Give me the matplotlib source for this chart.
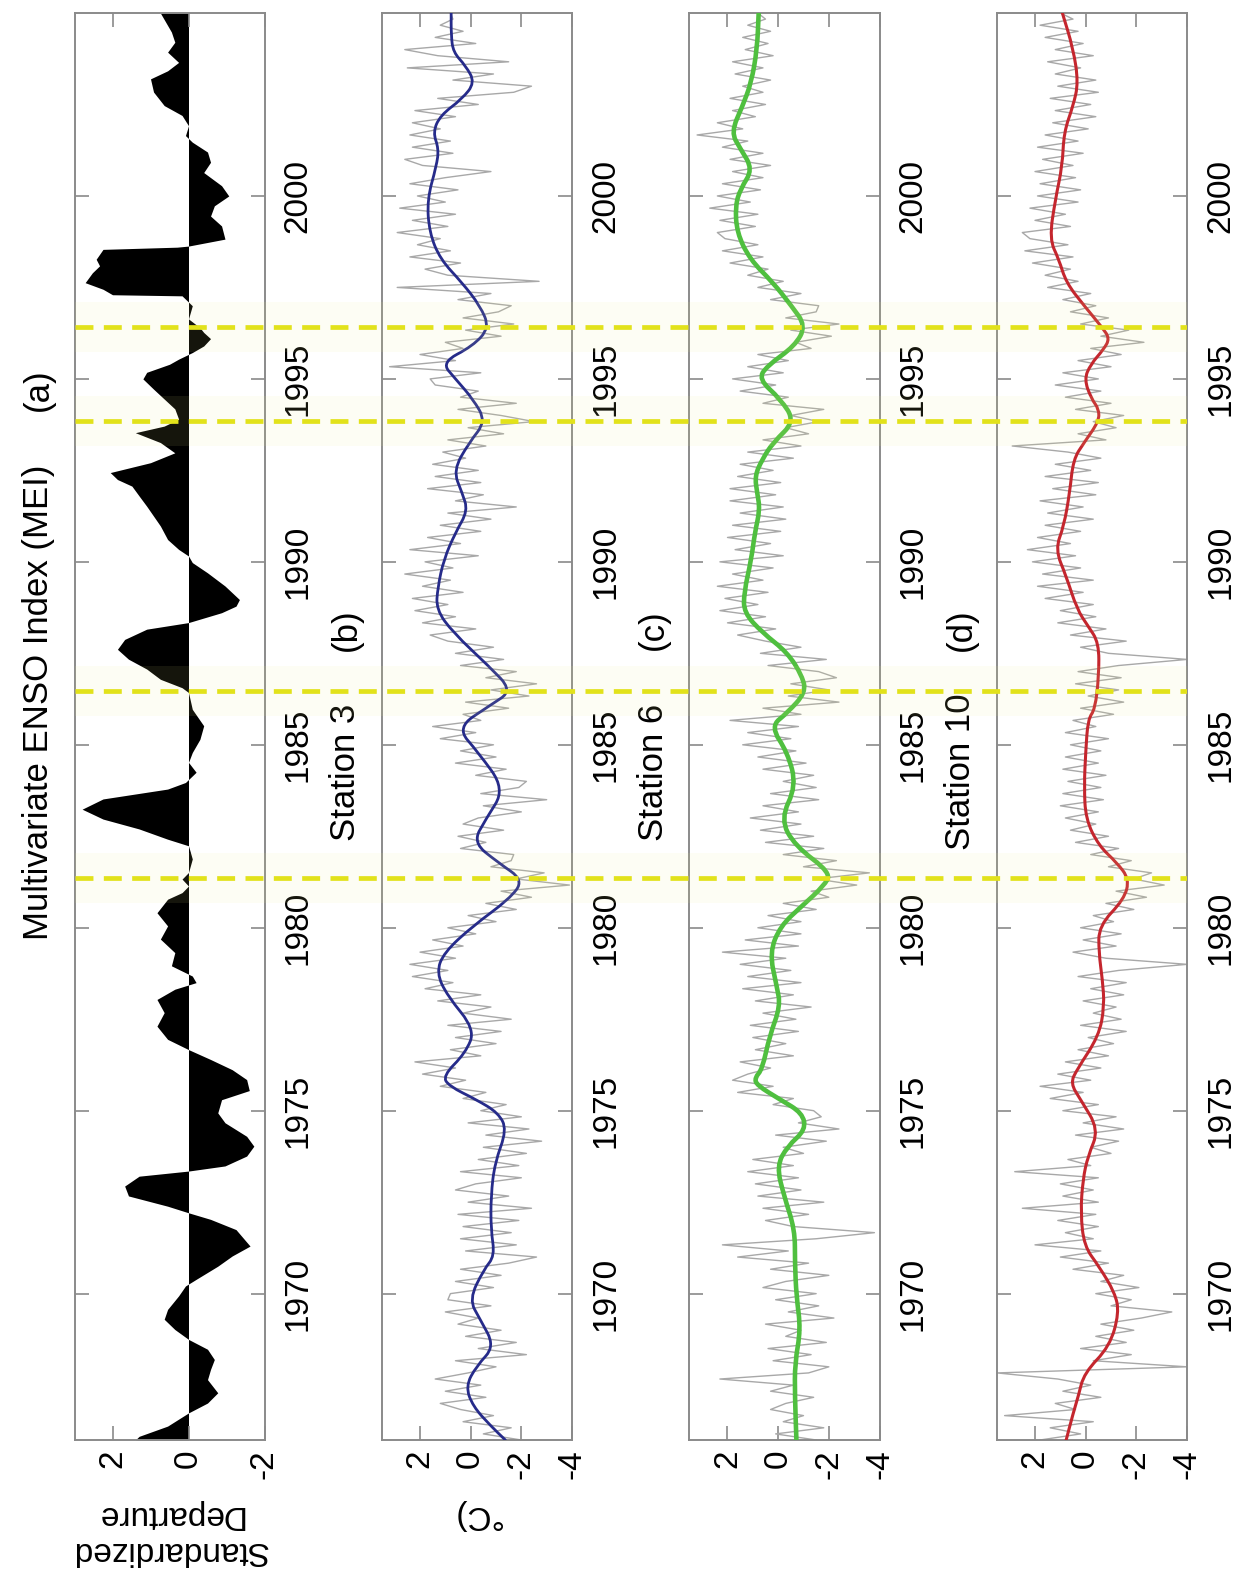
#!/usr/bin/env python3
# coding: utf-8

import numpy as np
import matplotlib

matplotlib.use("Agg")
import matplotlib.pyplot as plt
from matplotlib.path import Path
from matplotlib.patches import PathPatch

plt.rcParams["font.family"] = ["Liberation Sans", "DejaVu Sans"]
plt.rcParams["axes.unicode_minus"] = False

# Multivariate ENSO Index, (year, standardized departure)
mei = [
    (1966.00, 1.40), (1966.10, 1.30), (1966.38, 0.55), (1966.74, 0.00), (1967.01, -0.50),
    (1967.29, -0.77), (1967.65, -0.50), (1967.93, -0.58), (1968.20, -0.68), (1968.48, -0.50),
    (1968.75, 0.00), (1969.02, 0.36), (1969.30, 0.64), (1969.57, 0.55), (1969.94, 0.26),
    (1970.21, 0.08), (1970.39, -0.20), (1970.75, -0.77), (1971.03, -1.15), (1971.30, -1.62),
    (1971.75, -1.25), (1972.03, -0.58), (1972.21, 0.00), (1972.39, 0.55), (1972.67, 1.58),
    (1972.94, 1.68), (1973.21, 1.30), (1973.35, 0.00), (1973.49, -0.96), (1973.76, -1.53),
    (1974.03, -1.72), (1974.30, -1.53), (1974.67, -0.96), (1974.94, -0.77), (1975.30, -0.87),
    (1975.55, -1.60), (1975.85, -1.53), (1976.12, -1.15), (1976.40, -0.58), (1976.67, 0.00),
    (1976.95, 0.55), (1977.31, 0.83), (1977.68, 0.64), (1978.04, 0.83), (1978.32, 0.36),
    (1978.50, -0.20), (1978.68, -0.10), (1978.96, 0.45), (1979.32, 0.36), (1979.69, 0.74),
    (1980.05, 0.55), (1980.41, 0.83), (1980.78, 0.55), (1980.96, 0.17), (1981.14, 0.00),
    (1981.33, 0.17), (1981.51, 0.00), (1981.88, -0.10), (1982.24, 0.00), (1982.42, 0.55),
    (1982.70, 1.30), (1982.97, 2.25), (1983.24, 2.80), (1983.52, 2.25), (1983.79, 0.55),
    (1983.97, 0.08), (1984.25, -0.20), (1984.52, 0.00), (1984.79, -0.10), (1985.15, -0.30),
    (1985.52, -0.40), (1985.97, -0.10), (1986.43, 0.00), (1986.56, 0.17), (1986.79, 0.74),
    (1987.07, 1.10), (1987.34, 1.58), (1987.61, 1.87), (1987.88, 1.68), (1988.16, 1.10),
    (1988.34, 0.00), (1988.61, -0.87), (1988.79, -1.25), (1988.97, -1.34), (1989.34, -0.96),
    (1989.70, -0.50), (1989.98, -0.10), (1990.16, 0.00), (1990.34, 0.26), (1990.61, 0.55),
    (1990.98, 0.74), (1991.25, 0.92), (1991.52, 1.10), (1991.80, 1.30), (1992.07, 1.49),
    (1992.25, 1.87), (1992.44, 2.06), (1992.71, 1.00), (1992.98, 0.36), (1993.26, 0.74),
    (1993.53, 1.40), (1993.71, 0.64), (1993.90, 0.26), (1994.18, 0.36), (1994.45, 0.64),
    (1994.72, 0.92), (1995.00, 1.20), (1995.18, 1.10), (1995.40, 0.50), (1995.54, 0.26),
    (1995.72, -0.10), (1995.90, -0.40), (1996.10, -0.58), (1996.27, -0.40), (1996.40, -0.30),
    (1996.64, 0.00), (1997.00, -0.10), (1997.27, 0.17), (1997.30, 2.00), (1997.45, 2.25),
    (1997.63, 2.72), (1997.90, 2.53), (1998.09, 2.34), (1998.27, 2.43), (1998.54, 2.25),
    (1998.60, 0.30), (1998.63, 0.00), (1998.82, -0.96), (1999.18, -0.87), (1999.45, -0.58),
    (1999.73, -0.68), (2000.00, -1.06), (2000.28, -0.87), (2000.64, -0.40), (2000.92, -0.58),
    (2001.20, -0.50), (2001.47, -0.10), (2001.65, 0.08), (2001.92, 0.00), (2002.20, 0.17),
    (2002.47, 0.64), (2002.84, 0.92), (2003.20, 1.00), (2003.42, 0.55), (2003.65, 0.26),
    (2003.93, 0.55), (2004.20, 0.36), (2004.48, 0.45), (2005.00, 0.74),
]

# station temperature anomalies, one value every two months from 1966.0 to 2005.0
raw_year = 1966 + np.arange(235) / 6.0

st3_raw = [
    -2.0, -0.5, -1.6, 0.3, -0.9, 0.4,
    1.2, -0.6, 1.0, -0.4, 1.4, 0.1,
    -1.0, 0.6, -2.2, -0.3, -1.8, 0.2,
    -1.2, 0.5, -0.3, 1.0, -0.8, 0.9,
    0.8, -0.9, 0.6, -1.2, 0.4, -1.5,
    -2.6, 0.2, -1.8, 0.4, -1.6, 0.3,
    -1.9, 0.5, -2.4, 0.1, -1.5, 0.6,
    -0.2, -2.0, 0.4, -1.9, -0.3, -2.2,
    -0.5, -2.8, -0.6, -2.3, 0.1, -2.0,
    -0.4, -1.4, 0.3, -0.6, 1.2, 0.2,
    1.9, 0.6, 2.2, -0.4, 0.8, -1.0,
    0.6, -1.2, 0.9, -1.6, 0.3, -0.8,
    1.3, -0.4, 1.8, 0.7, 2.3, 0.9,
    2.4, 0.6, 2.0, 0.3, 1.5, -0.2,
    0.9, -1.0, 0.1, -1.8, -0.6, -2.4,
    -1.2, -3.9, -1.8, -2.9, -0.8, -1.6,
    -1.7, 0.4, -0.6, 0.5, -1.3, 0.3,
    -0.3, -2.0, -0.5, -3.0, -0.4, -1.9,
    -2.2, -0.2, -1.4, 0.6, -1.0, 0.4,
    -0.9, 1.2, -0.2, 1.5, -0.4, 0.3,
    -1.5, 0.2, -2.3, -0.8, -2.6, -0.6,
    -1.8, 0.4, -1.3, 0.6, -0.9, 0.9,
    1.6, -0.2, 1.9, 0.6, 2.2, 0.9,
    2.3, 0.3, 1.9, 0.8, 2.6, 0.7,
    1.8, -0.3, 2.4, 0.4, 1.7, -0.4,
    1.2, -0.8, 0.9, -1.8, 0.6, -0.5,
    1.7, -0.4, 1.4, -0.3, 1.5, 0.2,
    1.1, -0.6, 0.9, -1.3, 0.1, -2.5,
    -1.2, 0.5, -1.8, 0.4, -0.3, 1.4,
    1.6, -0.4, 3.2, 0.6, 2.0, 0.3,
    1.0, -1.2, 0.2, -1.7, 0.3, -1.1,
    -1.6, 0.5, -0.8, 2.9, -2.7, 0.9,
    1.8, 0.4, 2.4, 0.8, 2.1, 1.2,
    2.9, 0.9, 2.3, 0.6, 2.8, 1.0,
    2.1, 0.5, 2.4, 1.0, -0.8, 1.9,
    2.6, 0.7, 2.3, 0.8, 2.4, 1.2,
    2.3, 0.6, 2.2, -0.3, 1.3, -1.7,
    -2.4, 0.7, -0.9, 2.5, -1.5, 1.3,
    2.6, -0.2, 1.4, 0.3, 1.2, 0.7,
    0.8,
]

st6_raw = [
    -1.5, 0.1, -1.8, -0.2, -1.0, 0.3,
    -0.3, -1.4, 0.3, -0.6, 2.3, -1.2,
    -2.0, 0.2, -1.3, 0.4, -1.9, -0.3,
    -0.9, 0.5, -2.2, -0.4, -1.6, 0.1,
    -1.5, 0.6, -0.3, -2.0, 0.3, -1.2,
    1.6, -0.4, 2.2, -1.5, -3.8, -0.6,
    0.5, -1.2, 0.6, -1.8, 0.8, -0.9,
    0.9, -0.8, 1.2, -0.6, 1.0, -1.0,
    -0.2, -1.9, 0.1, -2.4, -0.8, -1.7,
    -1.4, 0.2, -0.6, 1.6, 0.2, 1.8,
    1.2, 0.3, 1.5, -0.6, 0.9, -0.3,
    1.0, -0.8, 1.1, -0.7, 0.6, -1.3,
    0.9, -0.6, 1.4, -0.9, 1.2, -0.5,
    1.5, -0.3, 2.2, -0.8, 1.3, -0.9,
    0.8, -0.9, 0.4, -1.5, -0.2, -2.0,
    -1.3, -3.1, -1.5, -3.6, -1.0, -2.3,
    -0.2, -1.8, 0.5, -1.4, 0.7, -0.9,
    1.1, -0.8, 0.6, -1.6, 0.3, -1.5,
    -0.2, -1.4, 0.6, -1.1, 0.8, -0.7,
    1.4, -0.5, 1.2, -0.8, 1.9, -0.9,
    0.6, -2.4, -0.4, -2.0, -0.5, -2.3,
    -1.6, 0.4, -1.9, 0.7, -0.9, 0.5,
    1.6, 0.1, 2.0, 0.5, 2.3, 0.8,
    2.1, 0.4, 2.4, 0.6, 1.8, 0.2,
    2.3, -0.2, 1.7, 0.3, 2.0, -0.1,
    1.8, -0.3, 1.5, -0.2, 1.9, 0.1,
    1.9, -0.1, 1.6, 0.2, 1.5, -0.6,
    1.2, -0.9, 0.6, -1.2, -0.3, -1.6,
    -0.5, -1.8, 0.6, -0.4, 1.5, 0.1,
    1.8, -0.2, 1.2, -0.4, 0.8, -1.3,
    -0.7, -2.1, -0.5, -2.4, -0.3, -1.5,
    -1.6, 0.3, -0.9, 0.8, -0.2, 1.2,
    0.4, 1.9, 0.6, 2.2, 0.8, 2.1,
    2.4, 0.9, 2.3, 0.8, 2.7, 1.1,
    2.4, 0.7, 2.2, 0.6, 1.8, 0.3,
    1.9, 0.6, 2.2, 1.2, 3.2, 1.4,
    2.4, 0.9, 1.8, 0.5, 1.9, 0.6,
    1.4, 0.3, 1.7, 0.6, 1.8, 0.2,
    1.3, 0.4, 1.4, 0.3, 1.2, 0.5,
    0.8,
]

st10_raw = [
    1.8, 0.2, 1.4, -0.3, 3.2, 0.4,
    1.2, -0.6, 0.9, -0.2, 1.1, 3.5,
    -4.0, -0.3, -1.8, 0.2, -1.6, -0.4,
    -1.9, -0.6, -2.2, -3.4, -1.0, -1.8,
    -0.4, -2.1, -0.6, -1.5, 0.5, -0.9,
    1.0, -0.6, 2.0, -0.3, 0.8, -0.5,
    1.1, -0.4, 2.5, -0.5, 0.9, -0.3,
    1.0, -0.5, 2.8, -0.2, 0.7, -1.0,
    -0.2, -1.3, 0.4, -1.5, 0.1, -1.2,
    0.9, -0.5, 1.4, 0.1, 1.8, -0.2,
    1.1, -0.6, 0.8, -0.9, 0.3, -1.1,
    -0.1, -1.6, 0.2, -1.4, -0.3, -1.2,
    0.1, -1.5, -0.2, -1.6, 0.3, -1.3,
    -4.0, -0.8, 0.5, -1.2, 0.1, -1.4,
    0.2, -1.1, -0.3, -1.9, -0.8, -2.4,
    -1.2, -3.1, -1.9, -2.6, -0.9, -1.8,
    -0.2, -1.3, 0.4, -0.9, 0.6, -0.4,
    0.8, -0.5, 1.0, -0.7, 0.9, -0.6,
    0.7, -0.8, 0.9, -0.5, 0.8, -0.6,
    0.6, -0.9, 0.8, -0.4, 0.5, -1.1,
    0.2, -1.5, -0.1, -1.3, 0.4, -1.4,
    0.3, -1.3, -4.0, -0.9, 0.2, -1.6,
    0.6, -0.8, 1.1, -0.4, 1.0, -0.3,
    1.6, 0.1, 1.9, -0.3, 1.7, 0.2,
    2.1, 0.4, 2.3, 0.6, 1.9, 0.2,
    1.6, -0.3, 1.5, 0.1, 1.8, -0.4,
    1.3, -0.5, 1.6, -0.2, 1.2, -0.6,
    0.7, 2.9, -0.8, 0.3, -1.2, -0.3,
    -1.5, 0.4, -1.0, 0.8, -0.6, 1.2,
    -0.5, 0.9, -1.0, 0.3, -1.4, -0.2,
    -2.3, -0.6, -1.7, 0.2, -0.9, 0.6,
    -0.4, 0.9, -0.2, 1.5, 0.3, 1.6,
    0.6, 2.1, 0.5, 2.4, 0.7, 2.2,
    2.5, 0.6, 2.0, 0.8, 2.2, 0.3,
    1.9, 0.2, 1.8, 0.4, 2.0, 0.5,
    1.7, 0.1, 1.9, 0.3, 1.6, -0.1,
    1.3, -0.4, 1.2, -0.2, 1.4, -0.5,
    1.1, -0.4, 1.2, 0.2, 1.5, -0.3,
    1.2, 0.1, 1.6, 0.3, 1.8, 0.5,
    1.0,
]

# low-pass filtered anomalies, (year, degC)
st3_smooth = [
    (1966.00, -1.37), (1966.38, -0.80), (1966.92, -0.09), (1967.47, 0.20), (1968.02, -0.23),
    (1968.56, -0.95), (1969.30, -0.37), (1969.84, 0.06), (1970.66, -0.52), (1971.03, -0.95),
    (1971.75, -0.80), (1972.67, -0.80), (1973.57, -0.95), (1974.48, -1.43), (1974.94, -1.09),
    (1975.30, -0.23), (1975.67, 0.85), (1975.95, 1.10), (1976.58, 0.20), (1977.22, -0.17),
    (1978.14, 0.92), (1978.77, 1.35), (1979.32, 1.06), (1980.05, -0.09), (1980.78, -1.52),
    (1981.30, -2.09), (1981.78, -1.09), (1982.33, -0.09), (1982.97, -0.60), (1983.79, -1.35),
    (1984.79, -0.30), (1985.47, 0.55), (1986.07, -0.75), (1986.48, -1.65), (1987.16, -0.70),
    (1988.07, 0.70), (1988.70, 1.36), (1989.30, 1.30), (1990.07, 1.06), (1990.80, 0.60),
    (1991.40, 0.11), (1991.89, 0.34), (1992.50, 0.69), (1993.26, 0.06), (1993.84, -0.60),
    (1994.45, -0.09), (1995.00, 0.60), (1995.45, 1.15), (1995.90, -0.09), (1996.40, -0.74),
    (1997.00, -0.37), (1997.63, 0.34), (1998.27, 1.20), (1999.00, 1.63), (1999.90, 1.72),
    (2000.82, 1.35), (2001.29, 1.26), (2001.74, 1.49), (2002.20, 1.20), (2002.65, 0.34),
    (2003.10, -0.17), (2003.56, 0.20), (2003.93, 0.69), (2004.40, 0.77), (2005.00, 0.77),
]

st6_smooth = [
    (1966.00, -0.72), (1967.20, -0.66), (1968.11, -0.66), (1969.02, -0.89), (1969.93, -0.72),
    (1970.84, -0.66), (1971.75, -0.66), (1972.67, -0.23), (1973.49, 0.06), (1974.03, -0.37),
    (1974.48, -1.09), (1974.94, -0.95), (1975.30, -0.09), (1975.70, 0.85), (1975.90, 0.92),
    (1976.13, 0.63), (1977.04, 0.34), (1977.86, -0.09), (1978.41, 0.06), (1979.32, 0.34),
    (1980.05, -0.09), (1980.60, -0.95), (1981.14, -1.80), (1981.50, -2.09), (1982.24, -0.66),
    (1982.97, -0.09), (1983.88, -0.72), (1984.79, -0.37), (1985.50, 0.30), (1985.88, -0.37),
    (1986.43, -1.09), (1986.88, -0.95), (1987.52, -0.37), (1988.07, 0.63), (1988.61, 1.35),
    (1989.16, 1.35), (1990.07, 1.06), (1990.80, 0.92), (1991.43, 0.72), (1991.89, 0.83),
    (1992.35, 0.92), (1992.80, 0.63), (1993.26, 0.20), (1993.84, -0.66), (1994.45, -0.09),
    (1994.99, 0.77), (1995.35, 0.45), (1995.90, -0.66), (1996.45, -1.09), (1997.00, -0.52),
    (1997.63, 0.20), (1998.27, 1.12), (1999.00, 1.63), (1999.73, 1.69), (2000.19, 1.49),
    (2000.73, 1.00), (2001.29, 1.49), (2001.74, 1.86), (2002.47, 1.40), (2003.10, 1.06),
    (2004.02, 0.83), (2005.00, 0.77),
]

st10_smooth = [
    (1966.00, 0.77), (1966.74, 0.49), (1967.20, 0.29), (1967.83, 0.06), (1968.56, -0.95),
    (1969.48, -1.32), (1970.03, -1.15), (1970.75, -0.52), (1971.30, 0.06), (1972.21, 0.20),
    (1973.12, 0.11), (1973.76, -0.09), (1974.48, -0.52), (1975.30, 0.20), (1975.75, 0.60),
    (1976.13, 0.34), (1977.04, -0.52), (1977.86, -0.74), (1978.59, -0.66), (1979.32, -0.52),
    (1980.05, -0.52), (1980.78, -1.52), (1981.33, -1.72), (1981.78, -1.23), (1982.24, -0.52),
    (1982.97, 0.00), (1983.88, 0.06), (1984.79, 0.00), (1985.70, -0.09), (1985.97, -0.37),
    (1986.88, -0.52), (1987.79, -0.52), (1988.25, -0.09), (1988.70, 0.34), (1989.61, 0.77),
    (1990.34, 1.20), (1990.98, 0.86), (1991.89, 0.63), (1992.80, 0.49), (1993.26, 0.06),
    (1993.84, -0.52), (1994.18, -0.52), (1994.45, -0.23), (1994.99, 0.06), (1995.40, -0.20),
    (1995.80, -0.70), (1996.10, -0.95), (1996.40, -0.66), (1997.00, 0.06), (1997.63, 0.77),
    (1998.27, 1.06), (1998.82, 1.43), (1999.90, 1.20), (2000.82, 0.92), (2001.74, 0.86),
    (2002.47, 0.49), (2003.10, 0.29), (2004.02, 0.49), (2005.00, 0.92),
]

# cold events marked across all panels
event_years = [1981.35, 1986.46, 1993.85, 1996.42]

stations = [
    ("Station 3", "(b)", st3_raw, st3_smooth, "#262b8a", 2.0),
    ("Station 6", "(c)", st6_raw, st6_smooth, "#4fbf3f", 3.3),
    ("Station 10", "(d)", st10_raw, st10_smooth, "#c4262e", 2.2),
]

year_ticks = [1970, 1975, 1980, 1985, 1990, 1995, 2000]
frame = "#8a8a8a"

W, H = 1235.0, 1574.0
left0, step, width = 74.5, 307.5, 190.0
top, bottom = 13.0, 1440.0


def rect(i):
    return [(left0 + i * step) / W, 1 - bottom / H, width / W, (bottom - top) / H]


def style(ax, xlim, xticks):
    ax.set_facecolor("none")
    ax.set_ylim(1966, 2005)
    ax.set_xlim(*xlim)
    ax.set_xticks(xticks)
    ax.set_xticklabels(["%d" % v for v in xticks])
    ax.set_yticks(year_ticks)
    ax.set_yticklabels(["%d" % v for v in year_ticks])
    for s in ax.spines.values():
        s.set_color(frame)
        s.set_linewidth(1.4)
    ax.tick_params(axis="y", direction="in", length=10, width=1.2, color=frame,
                   left=True, right=True, labelleft=False, labelright=True,
                   labelrotation=90, labelsize=24, pad=13)
    ax.tick_params(axis="x", direction="in", length=10, width=1.2, color=frame,
                   top=True, bottom=True, labelrotation=90, labelsize=24, pad=7)
    for t in ax.get_yticklabels():
        t.set_va("center")
        t.set_ha("left")


def smooth_line(ax, xs, ys, **kw):
    # quadratic bezier through the midpoints, read points act as control points
    pts = np.column_stack([xs, ys])
    mids = (pts[:-1] + pts[1:]) / 2
    verts = [pts[0], mids[0]]
    codes = [Path.MOVETO, Path.LINETO]
    for k in range(1, len(pts) - 1):
        verts += [pts[k], mids[k]]
        codes += [Path.CURVE3, Path.CURVE3]
    verts.append(pts[-1])
    codes.append(Path.LINETO)
    ax.add_patch(PathPatch(Path(verts, codes), fill=False, capstyle="round",
                           joinstyle="round", zorder=3, **kw))


def titles(ax, name, tag):
    ax.text(-0.19, 0.468, name, transform=ax.transAxes, rotation=90,
            ha="center", va="center", fontsize=25)
    ax.text(-0.19, 0.5676, tag, transform=ax.transAxes, rotation=90,
            ha="center", va="center", fontsize=25)


fig = plt.figure(figsize=(12.35, 15.74), dpi=100)

# (a) MEI
ax = fig.add_axes(rect(0), zorder=1)
my, mv = zip(*mei)
ax.fill_betweenx(my, 0, mv, color="k", lw=0)
style(ax, (3, -2), [2, 0, -2])
ax.set_xlabel("Standardized\nDeparture", rotation=180, fontsize=24, labelpad=14)
ax.text(-0.19, 0.517, "Multivariate ENSO Index (MEI)", transform=ax.transAxes,
        rotation=90, ha="center", va="center", fontsize=25)
ax.text(-0.19, 0.736, "(a)", transform=ax.transAxes, rotation=90,
        ha="center", va="center", fontsize=25)

# (b)-(d) stations
for i, (name, tag, raw, smooth, color, lw) in enumerate(stations):
    ax = fig.add_axes(rect(i + 1), zorder=1)
    ax.plot(raw, raw_year, color="#a8a8a8", lw=1.0, zorder=2)
    sy, sv = zip(*smooth)
    smooth_line(ax, sv, sy, edgecolor=color, lw=lw)
    style(ax, (3.5, -4), [2, 0, -2, -4])
    titles(ax, name, tag)
    if i == 0:
        ax.set_xlabel("°C)", rotation=180, fontsize=24, labelpad=14)

# dashed event markers spanning all four panels
over = fig.add_axes([left0 / W, 1 - bottom / H, (3 * step + width) / W, (bottom - top) / H],
                    zorder=2)
over.set_facecolor("none")
over.set_ylim(1966, 2005)
over.set_xlim(0, 1)
over.axis("off")
for yr in event_years:
    over.axhline(yr, color="#f3f38c", lw=36, alpha=0.09, solid_capstyle="butt")
    over.axhline(yr, color="#e2e21a", lw=3.4, ls=(0, (3.8, 2.2)))

fig.savefig("out.png", dpi=100)
